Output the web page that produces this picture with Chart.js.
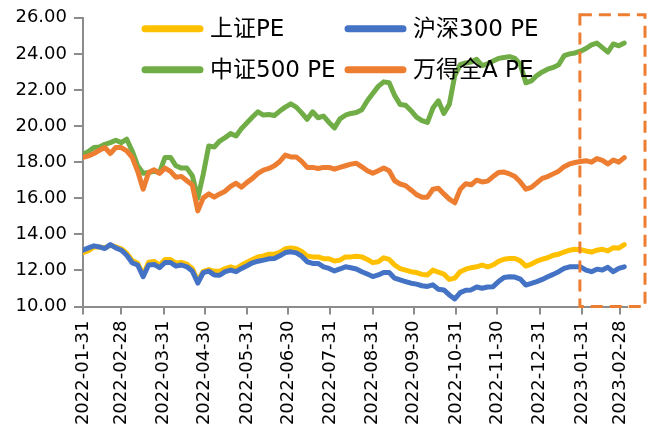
<!DOCTYPE html>
<html>
<head>
<meta charset="utf-8">
<script src="https://cdn.jsdelivr.net/npm/chart.js@4.4.1/dist/chart.umd.min.js"></script>
<style>
  html, body { margin: 0; padding: 0; background: #fff; }
  #wrap { width: 651px; height: 436px; position: relative; }
</style>
</head>
<body>
<div id="wrap"><canvas id="peChart"></canvas></div>
<script>
// days since 2022-01-31
const dayOffsets = [0,4,8,12,16,20,24,28,32,36,40,44,48,52,56,60,64,68,72,76,80,84,88,92,96,100,104,108,112,116,120,124,128,132,136,140,144,148,152,156,160,164,168,172,176,180,184,188,192,196,200,204,208,212,216,220,224,228,232,236,240,244,248,252,256,260,264,268,272,276,280,284,288,292,296,300,304,308,312,316,320,324,328,332,336,340,344,348,352,356,360,364,368,372,376,380,384,388,392,396];

const tickDays = [0, 28, 59, 89, 120, 150, 181, 212, 242, 273, 303, 334, 365, 393];
const tickLabels = ["2022-01-31", "2022-02-28", "2022-03-31", "2022-04-30", "2022-05-31", "2022-06-30", "2022-07-31",
  "2022-08-31", "2022-09-30", "2022-10-31", "2022-11-30", "2022-12-31", "2023-01-31", "2023-02-28"];

const seriesNames = ["上证PE", "沪深300 PE", "中证500 PE", "万得全A PE"];

const shPE = [12.98,13.1,13.3,13.3,13.25,13.4,13.3,13.2,12.95,12.55,12.4,11.75,12.45,12.5,12.3,12.6,12.6,12.4,12.45,12.35,12.1,11.4,11.95,12.05,11.95,11.95,12.1,12.2,12.1,12.3,12.45,12.6,12.75,12.8,12.9,12.9,13.0,13.2,13.25,13.2,13.05,12.8,12.75,12.75,12.65,12.65,
  12.52,12.57,12.75,12.75,12.79,12.75,12.61,12.43,12.48,12.7,12.61,12.3,12.1,12.02,11.93,11.88,11.78,11.75,12.02,11.9,11.8,11.5,11.57,11.93,12.07,12.15,12.2,12.3,12.2,12.3,12.5,12.62,12.66,12.66,12.53,12.24,12.35,12.51,12.62,12.7,12.84,12.9,13.02,13.12,13.17,13.15,13.08,13.02,13.12,13.17,13.08,13.26,13.24,13.43];

const hs300PE = [13.12,13.25,13.36,13.3,13.21,13.43,13.25,13.12,12.84,12.42,12.3,11.65,12.3,12.33,12.15,12.44,12.44,12.24,12.3,12.2,11.96,11.3,11.88,11.96,11.75,11.73,11.93,12.02,11.93,12.11,12.26,12.42,12.51,12.57,12.64,12.66,12.81,12.99,13.03,12.97,12.79,12.48,12.39,12.39,12.2,12.11,
  11.97,12.08,12.2,12.15,12.08,11.93,11.8,11.66,11.75,11.89,11.88,11.57,11.47,11.38,11.29,11.24,11.15,11.11,11.2,10.96,10.92,10.64,10.42,10.77,10.9,10.92,11.08,11.01,11.08,11.1,11.38,11.61,11.65,11.63,11.52,11.19,11.28,11.38,11.5,11.65,11.78,11.93,12.11,12.2,12.2,12.2,12.02,11.93,12.07,12.02,12.17,11.93,12.11,12.2];

const zz500PE = [18.44,18.59,18.81,18.84,18.99,19.08,19.21,19.08,19.27,18.62,17.8,17.38,17.43,17.49,17.43,18.26,18.26,17.8,17.67,17.67,17.25,16.0,17.34,18.9,18.84,19.17,19.36,19.58,19.45,19.87,20.18,20.5,20.79,20.61,20.64,20.59,20.83,21.05,21.23,21.05,20.73,20.37,20.79,20.46,20.55,20.2,
  19.9,20.4,20.6,20.7,20.75,20.9,21.4,21.8,22.2,22.45,22.4,21.7,21.2,21.15,20.85,20.5,20.3,20.2,21.0,21.4,20.7,21.2,22.8,23.4,23.5,23.55,23.7,23.35,23.45,23.6,23.75,23.8,23.85,23.75,23.4,22.4,22.5,22.8,23.0,23.15,23.25,23.4,23.9,24.0,24.05,24.15,24.3,24.5,24.6,24.35,24.1,24.55,24.45,24.6];

const wdaPE = [18.26,18.35,18.48,18.66,18.81,18.48,18.81,18.81,18.62,18.26,17.49,16.5,17.43,17.58,17.38,17.67,17.49,17.16,17.21,16.97,16.73,15.3,16.02,16.24,16.06,16.24,16.39,16.66,16.83,16.61,16.88,17.1,17.38,17.56,17.65,17.8,18.04,18.39,18.29,18.29,18.04,17.71,17.71,17.65,17.71,17.71,
  17.61,17.71,17.8,17.89,17.94,17.74,17.52,17.38,17.52,17.67,17.52,16.97,16.79,16.7,16.46,16.2,16.06,16.06,16.5,16.55,16.24,15.95,15.75,16.5,16.8,16.75,17.0,16.9,16.95,17.2,17.43,17.45,17.35,17.2,16.9,16.5,16.6,16.85,17.1,17.2,17.35,17.5,17.75,17.9,17.98,18.04,18.08,18.0,18.2,18.1,17.9,18.12,18.0,18.25];

const colors = ["#FFC000", "#4472C4", "#70AD47", "#ED7D31"];
const axisGray = "#8C8C8C";
const fontFamily = "'DejaVu Sans', 'Noto Sans CJK SC', sans-serif";

function toPoints(values) {
  return dayOffsets.map((d, i) => ({ x: d, y: values[i] }));
}

// legend drawn inside the plot, two columns
const insideLegend = {
  id: "insideLegend",
  afterDatasetsDraw(chart) {
    const { ctx, chartArea } = chart;
    const cols = [chartArea.left + 62, chartArea.left + 265];
    const rows = [chartArea.top + 11, chartArea.top + 52];
    const order = [[0, 0, 0], [1, 1, 0], [2, 0, 1], [3, 1, 1]];
    ctx.save();
    ctx.font = "23px " + fontFamily;
    ctx.textBaseline = "middle";
    ctx.textAlign = "left";
    order.forEach(([idx, c, r]) => {
      const x = cols[c], y = rows[r];
      ctx.strokeStyle = colors[idx];
      ctx.lineWidth = 7;
      ctx.lineCap = "round";
      ctx.beginPath();
      ctx.moveTo(x, y);
      ctx.lineTo(x + 55, y);
      ctx.stroke();
      ctx.fillStyle = "#000";
      ctx.fillText(seriesNames[idx], x + 65, y + 1);
    });
    ctx.restore();
  }
};

// dashed highlight box around the latest period
const highlightBox = {
  id: "highlightBox",
  afterDraw(chart) {
    const { ctx, chartArea, scales } = chart;
    const left = scales.x.getPixelForValue(tickDays[12]) - 2;
    const right = chartArea.right + 18;
    const top = scales.y.getPixelForValue(26) - 3;
    const bottom = chartArea.bottom;
    ctx.save();
    ctx.strokeStyle = "#ED7D31";
    ctx.lineWidth = 3;
    ctx.setLineDash([12, 7]);
    ctx.strokeRect(left, top, right - left, bottom - top);
    ctx.restore();
  }
};

const mk = (label, values, idx, order) => ({
  label: label,
  data: toPoints(values),
  borderColor: colors[idx],
  backgroundColor: colors[idx],
  borderWidth: 5,
  pointRadius: 0,
  tension: 0,
  borderJoinStyle: "round",
  borderCapStyle: "round",
  order: order
});

new Chart(document.getElementById("peChart"), {
  type: "line",
  data: {
    datasets: [
      mk(seriesNames[0], shPE, 0, 2),
      mk(seriesNames[1], hs300PE, 1, 1),
      mk(seriesNames[2], zz500PE, 2, 2),
      mk(seriesNames[3], wdaPE, 3, 1)
    ]
  },
  options: {
    responsive: true,
    maintainAspectRatio: false,
    animation: false,
    layout: { padding: { top: 16, right: 24, left: 0, bottom: 0 } },
    plugins: {
      legend: { display: false },
      tooltip: { enabled: false }
    },
    scales: {
      x: {
        type: "linear",
        min: 0,
        max: 398,
        afterBuildTicks(scale) {
          scale.ticks = tickDays.map(v => ({ value: v }));
        },
        afterFit(scale) { scale.height = 129.5; },
        ticks: {
          autoSkip: false,
          minRotation: 90,
          maxRotation: 90,
          padding: 6,
          color: "#000",
          font: { family: fontFamily, size: 18 },
          callback: (value) => {
            const i = tickDays.indexOf(value);
            return i >= 0 ? tickLabels[i] : "";
          }
        },
        grid: {
          drawOnChartArea: false,
          drawTicks: true,
          tickLength: 8,
          color: axisGray,
          lineWidth: 2
        },
        border: { display: true, color: axisGray, width: 2 }
      },
      y: {
        min: 10,
        max: 26,
        afterFit(scale) { scale.width = 83; },
        ticks: {
          stepSize: 2,
          padding: 7,
          color: "#000",
          font: { family: fontFamily, size: 18 },
          callback: v => v.toFixed(2)
        },
        grid: {
          drawOnChartArea: false,
          drawTicks: true,
          tickLength: 9,
          color: axisGray,
          lineWidth: 2
        },
        border: { display: true, color: axisGray, width: 2 }
      }
    }
  },
  plugins: [insideLegend, highlightBox]
});
</script>
</body>
</html>
